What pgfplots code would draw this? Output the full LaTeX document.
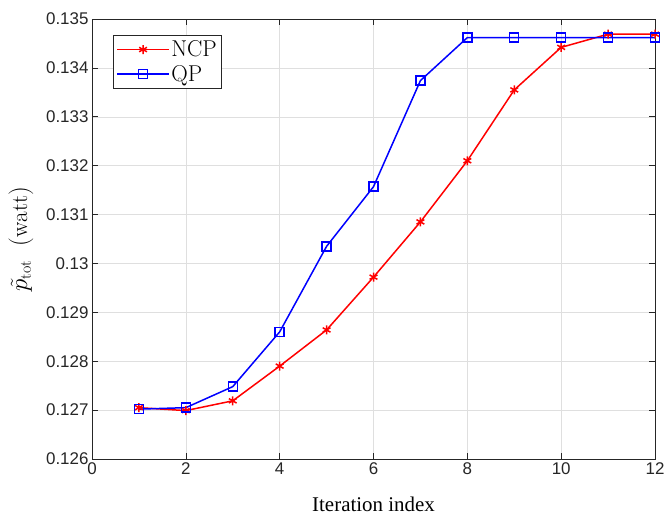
\documentclass[border=0pt]{standalone}
\usepackage{pgfplots}
\pgfplotsset{compat=1.18}
\usepackage{fontspec}
\newfontfamily\arialfont{Liberation Sans}
\newfontfamily\timesfont{Liberation Serif}
\definecolor{axgray}{rgb}{0.15,0.15,0.15}
\begin{document}
\begin{tikzpicture}
\begin{axis}[
    at={(0,0)}, anchor=south west,
    scale only axis,
    width=563bp, height=440bp,
    xmin=0, xmax=12, ymin=0.126, ymax=0.135,
    xtick={0,2,...,12},
    ytick={0.126,0.127,0.128,0.129,0.130,0.131,0.132,0.133,0.134,0.135},
    scaled y ticks=false,
    yticklabel style={/pgf/number format/fixed, /pgf/number format/precision=3},
    /pgf/number format/assume math mode=true,
    ticklabel style={font=\arialfont\fontsize{17}{19}\selectfont, text=axgray},
    tick align=inside,
    major tick length=6bp,
    tick style={axgray, line width=0.6bp},
    axis line style={axgray, line width=0.6bp},
    grid=major,
    grid style={gray!25, line width=0.5bp},
    xlabel={Iteration index},
    every axis x label/.style={at={(rel axis cs:0.5,0)}, anchor=base, yshift=-52bp,
        font=\timesfont\fontsize{21}{23}\selectfont},
    ylabel={$\tilde{p}_{\mathrm{tot}}\ \ (\mathrm{watt})$},
    every axis y label/.style={at={(rel axis cs:0,0.5)}, anchor=center, rotate=90, yshift=71bp,
        font=\fontsize{23}{25}\selectfont},
    legend style={at={(rel axis cs:0,1)}, anchor=north west, xshift=21bp, yshift=-16bp,
        font=\fontsize{23}{25}\selectfont, draw=axgray, line width=0.6bp,
        inner xsep=3bp, inner ysep=4bp, row sep=4bp, nodes={inner sep=1.5bp}},
    legend cell align=left,
    legend image code/.code={
        \draw[mark repeat=2, mark phase=2] plot coordinates {(0bp,0bp) (26bp,0bp) (52bp,0bp)};
    },
]
\addplot[red, line width=1.5bp, mark=asterisk, mark size=4.5bp, mark options={line width=1.5bp}] coordinates {
    (1,0.12705) (2,0.12699) (3,0.12719) (4,0.12790) (5,0.12864) (6,0.12972)
    (7,0.13085) (8,0.13210) (9,0.13355) (10,0.13442) (11,0.13469) (12,0.13469)
};
\addplot[blue, line width=1.5bp, mark=square, mark size=4.5bp, mark options={line width=1.4bp}] coordinates {
    (1,0.12702) (2,0.12705) (3,0.12748) (4,0.12860) (5,0.13035) (6,0.13157)
    (7,0.13374) (8,0.13462) (9,0.13462) (10,0.13462) (11,0.13462) (12,0.13462)
};
\legend{NCP, QP}
\end{axis}
\pgfresetboundingbox
\path[use as bounding box] (-92bp,-61bp) rectangle (572bp,459bp);
\end{tikzpicture}
\end{document}
